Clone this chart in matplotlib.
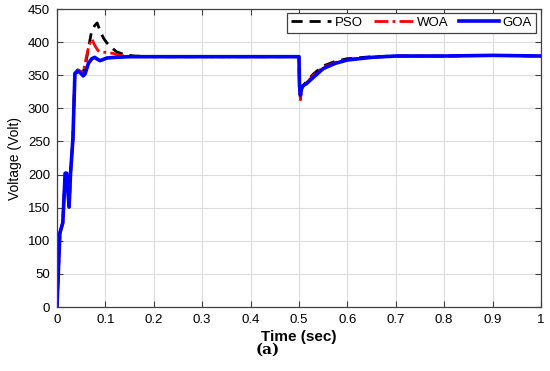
import matplotlib
matplotlib.use("Agg")
import matplotlib.pyplot as plt

plt.rcParams['font.family'] = ['Liberation Sans', 'DejaVu Sans']

# GOA
t_goa = [0, 0.006, 0.012, 0.017, 0.020, 0.025, 0.028, 0.033, 0.037, 0.043, 0.048, 0.054,
         0.058, 0.065, 0.072, 0.078, 0.084, 0.089, 0.096, 0.103, 0.12, 0.15, 0.3, 0.5,
         0.501, 0.503, 0.506, 0.515, 0.53, 0.55, 0.575, 0.6, 0.65, 0.7, 0.8, 0.9, 1.0]
v_goa = [0, 112, 127, 202, 202, 151, 202, 255, 352, 356, 354, 349,
         352, 368, 375, 377, 374, 372, 374, 376, 377, 378, 378, 378,
         335, 320, 333, 337, 347, 360, 368, 373, 377, 379, 379, 380, 379]

# WOA
t_woa = [0, 0.006, 0.012, 0.017, 0.020, 0.025, 0.028, 0.033, 0.037, 0.043, 0.048, 0.054,
         0.060, 0.066, 0.072, 0.078, 0.085, 0.095, 0.105, 0.116, 0.13, 0.15, 0.3, 0.5,
         0.501, 0.503, 0.506, 0.515, 0.53, 0.55, 0.575, 0.6, 0.65, 0.7, 0.8, 0.9, 1.0]
v_woa = [0, 112, 127, 202, 202, 151, 202, 255, 354, 358, 356, 354,
         375, 395, 405, 395, 387, 385, 384, 383, 380, 378, 378, 378,
         330, 313, 330, 338, 350, 362, 369, 374, 377, 379, 379, 380, 379]

# PSO
t_pso = [0, 0.006, 0.012, 0.017, 0.020, 0.025, 0.028, 0.033, 0.037, 0.043, 0.048, 0.054,
         0.060, 0.066, 0.072, 0.078, 0.083, 0.090, 0.097, 0.103, 0.112, 0.124, 0.14, 0.16,
         0.2, 0.3, 0.5, 0.501, 0.503, 0.506, 0.515, 0.53, 0.55, 0.575, 0.6, 0.65, 0.7,
         0.8, 0.9, 1.0]
v_pso = [0, 112, 127, 202, 202, 151, 202, 255, 354, 358, 356, 354,
         370, 395, 418, 425, 429, 415, 405, 399, 392, 385, 381, 379,
         378, 378, 378, 330, 316, 332, 340, 352, 364, 371, 375, 378, 379,
         379, 380, 379]

x_ticks = [0, 0.1, 0.2, 0.3, 0.4, 0.5, 0.6, 0.7, 0.8, 0.9, 1.0]
x_labels = ['0', '0.1', '0.2', '0.3', '0.4', '0.5', '0.6', '0.7', '0.8', '0.9', '1']
y_ticks = list(range(0, 451, 50))

fig = plt.figure(figsize=(5.5, 3.71), dpi=100)
ax = fig.add_axes([0.1036, 0.1725, 0.88, 0.8032])

ax.plot(t_pso, v_pso, color='black', lw=2.0, ls=(0, (4, 2.5)), label='PSO')
ax.plot(t_woa, v_woa, color='red', lw=2.0, ls=(0, (5, 1.5, 1, 1.5)), label='WOA')
ax.plot(t_goa, v_goa, color='blue', lw=2.6, ls='-', label='GOA')

ax.set_xlim(0, 1)
ax.set_ylim(0, 450)
ax.set_xticks(x_ticks)
ax.set_xticklabels(x_labels)
ax.set_yticks(y_ticks)
ax.grid(True, color='#dcdcdc', lw=0.8)
ax.set_axisbelow(True)
ax.tick_params(direction='in', top=True, right=True, labelsize=9.5, length=4,
               color='#404040', pad=5)
for s in ax.spines.values():
    s.set_color('#404040')
    s.set_linewidth(0.9)

ax.set_xlabel('Time (sec)', fontsize=11, fontweight='bold', labelpad=3)
ax.set_ylabel('Voltage (Volt)', fontsize=10, labelpad=4)

leg = ax.legend(loc='upper right', ncol=3, fontsize=9.5, handlelength=3.0,
                columnspacing=0.8, handletextpad=0.3, borderpad=0.3,
                borderaxespad=0, fancybox=False, framealpha=1, edgecolor='#404040',
                bbox_to_anchor=(0.99, 0.987))
leg.get_frame().set_linewidth(0.9)

fig.text(268/550, 1 - 350/371, '(a)', ha='center', va='center', fontsize=11,
         family='DejaVu Serif', fontweight='bold')

fig.savefig('out.png', dpi=100)
